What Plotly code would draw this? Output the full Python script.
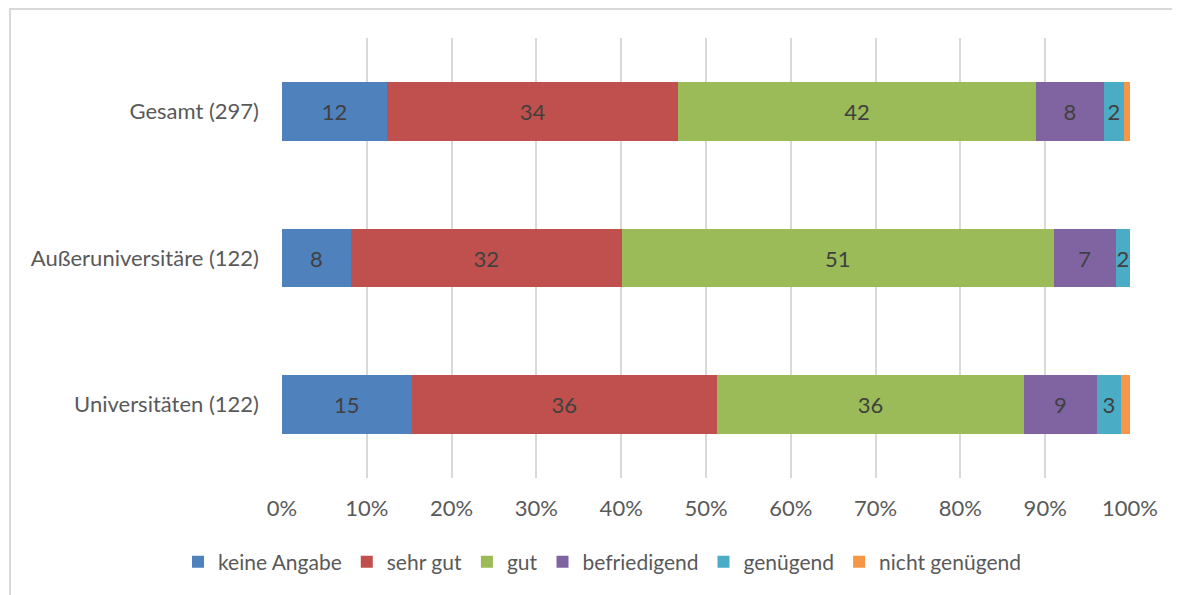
import plotly.graph_objects as go

categories = ["Universitäten (122)", "Außeruniversitäre (122)", "Gesamt (297)"]
series_names = ["keine Angabe", "sehr gut", "gut", "befriedigend", "genügend", "nicht genügend"]
keine_angabe = [15.3, 8.1, 12.4]
sehr_gut = [36.0, 32.0, 34.3]
gut = [36.2, 50.9, 42.2]
befriedigend = [8.6, 7.3, 8.0]
genuegend = [2.8, 1.7, 2.4]
nicht_genuegend = [1.1, 0.0, 0.7]
colors = ["#4F81BD", "#C0504D", "#9BBB59", "#8064A2", "#4BACC6", "#F79646"]
x_ticks = [0, 10, 20, 30, 40, 50, 60, 70, 80, 90, 100]
x_tick_labels = [f"{v}%" for v in x_ticks]

series_values = [keine_angabe, sehr_gut, gut, befriedigend, genuegend, nicht_genuegend]
show_labels = [True, True, True, True, True, False]

FONT = "Lato, 'Open Sans', sans-serif"
FS = 22
fig = go.Figure()
for name, vals, col, lab in zip(series_names, series_values, colors, show_labels):
    fig.add_trace(go.Bar(
        y=categories, x=vals, name=name, orientation="h",
        marker=dict(color=col, line=dict(width=0)),
        texttemplate="%{x:.0f}" if lab else None,
        textposition="inside" if lab else "none",
        insidetextanchor="middle",
        textangle=0,
        constraintext="none",
        insidetextfont=dict(color="#404040", size=FS, family=FONT),
        cliponaxis=False,
    ))

# the page body adds an 8px offset; margins compensate for it
L, T = 274, 30
W, H = 1180, 595
pw, ph = 848, 440
R = W - L - pw
B = H - T - ph

fig.update_layout(
    width=W, height=H,
    barmode="stack", bargap=0.6,
    plot_bgcolor="white", paper_bgcolor="white",
    margin=dict(l=L, r=R, t=T, b=B, pad=0, autoexpand=False),
    font=dict(family=FONT, size=FS, color="#595959"),
    xaxis=dict(range=[0, 100], tickvals=x_ticks, ticktext=x_tick_labels,
               showgrid=True, gridcolor="#D9D9D9", gridwidth=2, zeroline=False,
               showline=False, ticks="", tickfont=dict(size=FS, color="#595959"),
               ticklabelstandoff=15, fixedrange=True),
    yaxis=dict(range=[-0.5, 2.5], showgrid=False, zeroline=False, showline=False,
               ticks="", tickfont=dict(size=FS, color="#595959"), ticklabelstandoff=22,
               fixedrange=True),
    legend=dict(orientation="h", x=(602 - 8 - L) / pw, xanchor="center",
                y=-(562 - 8 - (T + ph)) / ph,
                yanchor="middle", font=dict(size=21, color="#595959"),
                traceorder="normal", itemwidth=30),
    showlegend=True,
)

# outer chart frame
fig.add_shape(type="rect", xref="paper", yref="paper",
              x0=(2 - L) / pw, x1=(1200 - L) / pw,
              y0=(T + ph - 620) / ph, y1=(T + ph - 1) / ph,
              line=dict(color="#D9D9D9", width=2), fillcolor="rgba(0,0,0,0)", layer="below")

fig.write_html("out.html")
